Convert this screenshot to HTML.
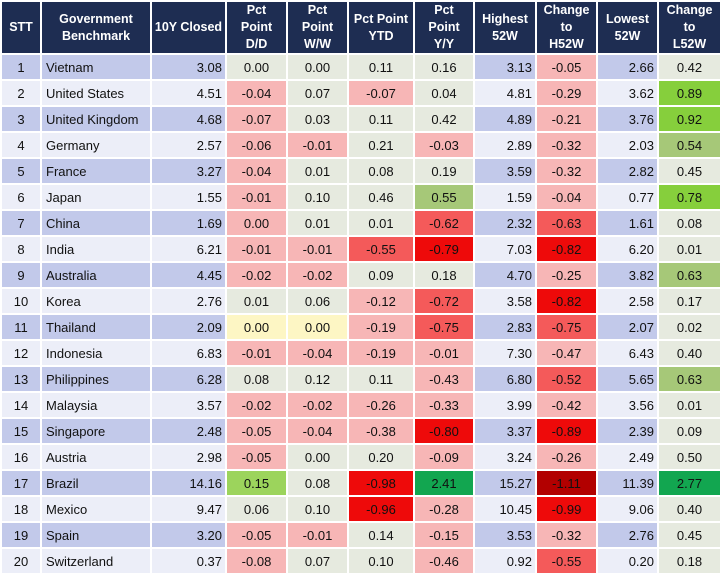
<!DOCTYPE html>
<html><head><meta charset="utf-8"><style>
html,body{margin:0;padding:0;background:#fff;width:720px;height:576px;overflow:hidden}
table{border-collapse:collapse;table-layout:fixed;width:720px;font-family:"Liberation Sans",Arial,sans-serif;font-size:13px;color:#111}
td,th{border:2px solid #fff;padding:0;overflow:hidden;white-space:nowrap}
th{background:#1e2d52;color:#fff;font-weight:bold;font-size:12.5px;height:51px;line-height:17px;text-align:center}
tr.r td{height:24px}
td{text-align:center;background:#e6eadf}
td.n{text-align:left;padding-left:4px}
td.v{text-align:right;padding-right:3px}
tr.o td.b{background:#c2c9ea}
tr.e td.b{background:#eceef8}
td.lr{background:#f7b6b6}
td.mr{background:#f45a5a}
td.rr{background:#ee0a0a}
td.dr{background:#b20000}
td.og{background:#a6c878}
td.bg{background:#86cf3c}
td.lg{background:#9cd45c}
td.gg{background:#12a650}
td.yl{background:#fdf6c4}
</style></head><body>
<table>
<colgroup><col style="width:40px"><col style="width:110px"><col style="width:75px"><col style="width:61px"><col style="width:61px"><col style="width:66px"><col style="width:60px"><col style="width:62px"><col style="width:61px"><col style="width:61px"><col style="width:63px"></colgroup>
<tr><th>STT</th><th>Government<br>Benchmark</th><th>10Y Closed</th><th>Pct<br>Point<br>D/D</th><th>Pct<br>Point<br>W/W</th><th>Pct Point<br>YTD</th><th>Pct<br>Point<br>Y/Y</th><th>Highest<br>52W</th><th>Change<br>to<br>H52W</th><th>Lowest<br>52W</th><th>Change<br>to<br>L52W</th></tr>
<tr class="r o"><td class="b">1</td><td class="b n">Vietnam</td><td class="b v">3.08</td><td>0.00</td><td>0.00</td><td>0.11</td><td>0.16</td><td class="b v">3.13</td><td class="lr">-0.05</td><td class="b v">2.66</td><td>0.42</td></tr>
<tr class="r e"><td class="b">2</td><td class="b n">United States</td><td class="b v">4.51</td><td class="lr">-0.04</td><td>0.07</td><td class="lr">-0.07</td><td>0.04</td><td class="b v">4.81</td><td class="lr">-0.29</td><td class="b v">3.62</td><td class="bg">0.89</td></tr>
<tr class="r o"><td class="b">3</td><td class="b n">United Kingdom</td><td class="b v">4.68</td><td class="lr">-0.07</td><td>0.03</td><td>0.11</td><td>0.42</td><td class="b v">4.89</td><td class="lr">-0.21</td><td class="b v">3.76</td><td class="bg">0.92</td></tr>
<tr class="r e"><td class="b">4</td><td class="b n">Germany</td><td class="b v">2.57</td><td class="lr">-0.06</td><td class="lr">-0.01</td><td>0.21</td><td class="lr">-0.03</td><td class="b v">2.89</td><td class="lr">-0.32</td><td class="b v">2.03</td><td class="og">0.54</td></tr>
<tr class="r o"><td class="b">5</td><td class="b n">France</td><td class="b v">3.27</td><td class="lr">-0.04</td><td>0.01</td><td>0.08</td><td>0.19</td><td class="b v">3.59</td><td class="lr">-0.32</td><td class="b v">2.82</td><td>0.45</td></tr>
<tr class="r e"><td class="b">6</td><td class="b n">Japan</td><td class="b v">1.55</td><td class="lr">-0.01</td><td>0.10</td><td>0.46</td><td class="og">0.55</td><td class="b v">1.59</td><td class="lr">-0.04</td><td class="b v">0.77</td><td class="bg">0.78</td></tr>
<tr class="r o"><td class="b">7</td><td class="b n">China</td><td class="b v">1.69</td><td class="lr">0.00</td><td>0.01</td><td>0.01</td><td class="mr">-0.62</td><td class="b v">2.32</td><td class="mr">-0.63</td><td class="b v">1.61</td><td>0.08</td></tr>
<tr class="r e"><td class="b">8</td><td class="b n">India</td><td class="b v">6.21</td><td class="lr">-0.01</td><td class="lr">-0.01</td><td class="mr">-0.55</td><td class="rr">-0.79</td><td class="b v">7.03</td><td class="rr">-0.82</td><td class="b v">6.20</td><td>0.01</td></tr>
<tr class="r o"><td class="b">9</td><td class="b n">Australia</td><td class="b v">4.45</td><td class="lr">-0.02</td><td class="lr">-0.02</td><td>0.09</td><td>0.18</td><td class="b v">4.70</td><td class="lr">-0.25</td><td class="b v">3.82</td><td class="og">0.63</td></tr>
<tr class="r e"><td class="b">10</td><td class="b n">Korea</td><td class="b v">2.76</td><td>0.01</td><td>0.06</td><td class="lr">-0.12</td><td class="mr">-0.72</td><td class="b v">3.58</td><td class="rr">-0.82</td><td class="b v">2.58</td><td>0.17</td></tr>
<tr class="r o"><td class="b">11</td><td class="b n">Thailand</td><td class="b v">2.09</td><td class="yl">0.00</td><td class="yl">0.00</td><td class="lr">-0.19</td><td class="mr">-0.75</td><td class="b v">2.83</td><td class="mr">-0.75</td><td class="b v">2.07</td><td>0.02</td></tr>
<tr class="r e"><td class="b">12</td><td class="b n">Indonesia</td><td class="b v">6.83</td><td class="lr">-0.01</td><td class="lr">-0.04</td><td class="lr">-0.19</td><td class="lr">-0.01</td><td class="b v">7.30</td><td class="lr">-0.47</td><td class="b v">6.43</td><td>0.40</td></tr>
<tr class="r o"><td class="b">13</td><td class="b n">Philippines</td><td class="b v">6.28</td><td>0.08</td><td>0.12</td><td>0.11</td><td class="lr">-0.43</td><td class="b v">6.80</td><td class="mr">-0.52</td><td class="b v">5.65</td><td class="og">0.63</td></tr>
<tr class="r e"><td class="b">14</td><td class="b n">Malaysia</td><td class="b v">3.57</td><td class="lr">-0.02</td><td class="lr">-0.02</td><td class="lr">-0.26</td><td class="lr">-0.33</td><td class="b v">3.99</td><td class="lr">-0.42</td><td class="b v">3.56</td><td>0.01</td></tr>
<tr class="r o"><td class="b">15</td><td class="b n">Singapore</td><td class="b v">2.48</td><td class="lr">-0.05</td><td class="lr">-0.04</td><td class="lr">-0.38</td><td class="rr">-0.80</td><td class="b v">3.37</td><td class="rr">-0.89</td><td class="b v">2.39</td><td>0.09</td></tr>
<tr class="r e"><td class="b">16</td><td class="b n">Austria</td><td class="b v">2.98</td><td class="lr">-0.05</td><td>0.00</td><td>0.20</td><td class="lr">-0.09</td><td class="b v">3.24</td><td class="lr">-0.26</td><td class="b v">2.49</td><td>0.50</td></tr>
<tr class="r o"><td class="b">17</td><td class="b n">Brazil</td><td class="b v">14.16</td><td class="lg">0.15</td><td>0.08</td><td class="rr">-0.98</td><td class="gg">2.41</td><td class="b v">15.27</td><td class="dr">-1.11</td><td class="b v">11.39</td><td class="gg">2.77</td></tr>
<tr class="r e"><td class="b">18</td><td class="b n">Mexico</td><td class="b v">9.47</td><td>0.06</td><td>0.10</td><td class="rr">-0.96</td><td class="lr">-0.28</td><td class="b v">10.45</td><td class="rr">-0.99</td><td class="b v">9.06</td><td>0.40</td></tr>
<tr class="r o"><td class="b">19</td><td class="b n">Spain</td><td class="b v">3.20</td><td class="lr">-0.05</td><td class="lr">-0.01</td><td>0.14</td><td class="lr">-0.15</td><td class="b v">3.53</td><td class="lr">-0.32</td><td class="b v">2.76</td><td>0.45</td></tr>
<tr class="r e"><td class="b">20</td><td class="b n">Switzerland</td><td class="b v">0.37</td><td class="lr">-0.08</td><td>0.07</td><td>0.10</td><td class="lr">-0.46</td><td class="b v">0.92</td><td class="mr">-0.55</td><td class="b v">0.20</td><td>0.18</td></tr>
</table>
</body></html>
